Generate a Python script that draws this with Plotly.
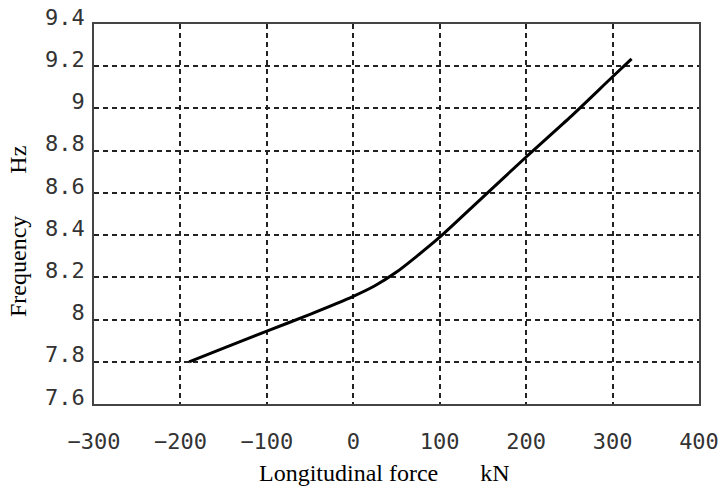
import plotly.graph_objects as go

force_kN = [-190, -150, -100, -50, 0, 25, 50, 75, 100, 150, 200, 250, 300, 322]
freq_Hz = [7.80, 7.865, 7.945, 8.025, 8.11, 8.16, 8.225, 8.305, 8.39, 8.58, 8.77, 8.955, 9.15, 9.235]

x_ticks = [-300, -200, -100, 0, 100, 200, 300, 400]
x_ticktext = ["\u2212300", "\u2212200", "\u2212100", "0", "100", "200", "300", "400"]
y_ticks = [7.6, 7.8, 8.0, 8.2, 8.4, 8.6, 8.8, 9.0, 9.2, 9.4]
y_ticktext = ["7.6", "7.8", "8", "8.2", "8.4", "8.6", "8.8", "9", "9.2", "9.4"]

x_title = "Longitudinal force\u00a0\u00a0\u00a0\u00a0\u00a0\u00a0\u00a0kN"
y_title = "Frequency\u00a0\u00a0\u00a0\u00a0\u00a0\u00a0\u00a0Hz"

fig = go.Figure()
fig.add_trace(go.Scatter(x=force_kN, y=freq_Hz, mode="lines",
                         line=dict(color="#000000", width=3, shape="spline", smoothing=0.8),
                         showlegend=False))

tickfont = dict(family="DejaVu Sans Mono", size=22, color="#333333")
grid = dict(showgrid=True, gridcolor="#222222", gridwidth=1.5, griddash="5px,4px",
            showline=True, linecolor="#444444", linewidth=1.5, mirror=True,
            ticks="", zeroline=False, tickfont=tickfont, automargin=False)

fig.update_xaxes(range=[-300, 400], tickvals=x_ticks, ticktext=x_ticktext,
                 ticklabelstandoff=17, **grid)
fig.update_yaxes(range=[7.6, 9.4], tickvals=y_ticks, ticktext=y_ticktext,
                 ticklabelstandoff=3, ticklabelshift=-7, **grid)

fig.add_annotation(text=x_title, x=384, y=473, xref="paper", yref="paper",
                   showarrow=False, font=dict(family="Liberation Serif", size=24, color="#000"))
fig.add_annotation(text=y_title, x=18, y=232, xref="paper", yref="paper",
                   showarrow=False, textangle=-90,
                   font=dict(family="Liberation Serif", size=24, color="#000"))

W, H = 721, 491
L, R, T, B = 94, 22, 24, 87
pw, ph = W - L - R, H - T - B
for a in fig.layout.annotations:
    px, py = a.x, a.y
    a.x = (px - L) / pw
    a.y = 1 - (py - T) / ph
    a.xanchor = "center"
    a.yanchor = "middle"

fig.update_layout(width=W, height=H, margin=dict(l=L, r=R, t=T, b=B, autoexpand=False),
                  paper_bgcolor="white", plot_bgcolor="white")
fig.write_html("out.html")
